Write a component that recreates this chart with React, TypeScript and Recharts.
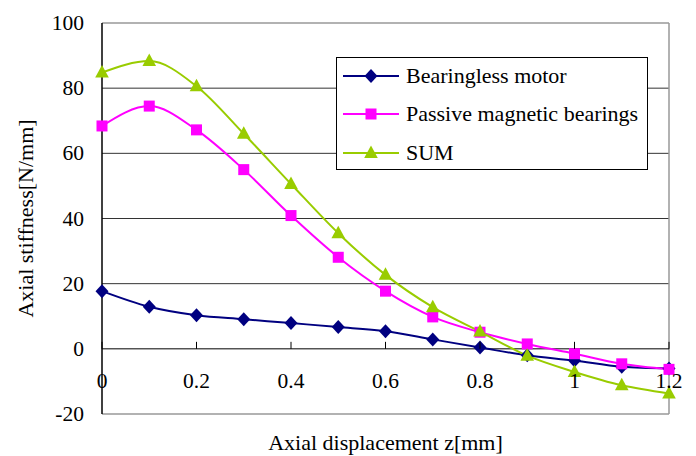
import React from "react";
import {
  LineChart,
  Line,
  XAxis,
  YAxis,
  ReferenceLine,
  Legend,
  Label,
} from "recharts";

const displacement = [0, 0.1, 0.2, 0.3, 0.4, 0.5, 0.6, 0.7, 0.8, 0.9, 1.0, 1.1, 1.2];
const bearinglessMotor = [17.7, 12.9, 10.3, 9.1, 7.9, 6.7, 5.4, 2.9, 0.4, -2.0, -3.6, -5.5, -6.0];
const passiveBearings = [68.4, 74.5, 67.2, 55.0, 40.9, 28.1, 17.7, 9.8, 5.1, 1.5, -1.5, -4.6, -6.3];
const sumStiffness = [84.8, 88.3, 80.6, 66.0, 50.6, 35.5, 22.7, 12.8, 5.3, -2.1, -7.1, -11.2, -13.7];

const xTicks = [0, 0.2, 0.4, 0.6, 0.8, 1, 1.2];
const yTicks = [-20, 0, 20, 40, 60, 80, 100];
const gridValues = [20, 40, 60, 80];

const chartData = displacement.map((z, i) => ({
  z,
  motor: bearinglessMotor[i],
  passive: passiveBearings[i],
  sum: sumStiffness[i],
}));

const FONT = "'Liberation Serif', 'Times New Roman', serif";
const NAVY = "#000080";
const MAGENTA = "#FF00FF";
const GREEN = "#99CC00";

const WIDTH = 696;
const HEIGHT = 456;
const MARGIN = { top: 23, right: 27, bottom: 0, left: 0 };
const X_AXIS_HEIGHT = 42;
// distance from bottom of plot (-20) to the zero line
const ZERO_OFFSET = ((HEIGHT - MARGIN.top - X_AXIS_HEIGHT) * 20) / 120;

function Marker({ kind, cx, cy }: { kind: string; cx: number; cy: number }) {
  if (kind === "diamond") {
    return (
      <path
        d={`M${cx},${cy - 7} L${cx + 6.5},${cy} L${cx},${cy + 7} L${cx - 6.5},${cy} Z`}
        fill={NAVY}
      />
    );
  }
  if (kind === "square") {
    return <rect x={cx - 5.5} y={cy - 5.5} width={11} height={11} fill={MAGENTA} />;
  }
  return (
    <path
      d={`M${cx},${cy - 7.5} L${cx + 6.8},${cy + 5} L${cx - 6.8},${cy + 5} Z`}
      fill={GREEN}
    />
  );
}

const makeDot = (kind: string) => (p: any) =>
  <Marker key={`${kind}-${p.index}`} kind={kind} cx={p.cx} cy={p.cy} />;

const XTick = (props: any) => {
  const { x, y, payload } = props;
  const zeroY = y - ZERO_OFFSET;
  return (
    <g>
      <line x1={x} x2={x} y1={zeroY - 7} y2={zeroY} stroke="#000" strokeWidth={1} />
      <text
        x={x}
        y={y - 33}
        textAnchor="middle"
        dominantBaseline="central"
        fontFamily={FONT}
        fontSize={21.5}
        fill="#000"
      >
        {payload.value}
      </text>
    </g>
  );
};

const YTick = (props: any) => {
  const { x, y, payload } = props;
  return (
    <text
      x={x}
      y={y}
      textAnchor="end"
      dominantBaseline="central"
      fontFamily={FONT}
      fontSize={21.5}
      fill="#000"
    >
      {payload.value}
    </text>
  );
};

const legendItems = [
  { label: "Bearingless motor", color: NAVY, kind: "diamond" },
  { label: "Passive magnetic bearings", color: MAGENTA, kind: "square" },
  { label: "SUM", color: GREEN, kind: "triangle" },
];

const LegendBox = () => (
  <div
    style={{
      width: 310,
      height: 111,
      border: "1px solid #000",
      background: "#fff",
      fontFamily: FONT,
      fontSize: 22,
      color: "#000",
      position: "relative",
    }}
  >
    {legendItems.map((item, i) => (
      <div
        key={item.label}
        style={{
          position: "absolute",
          left: 6,
          top: 18 + i * 38.3 - 14,
          height: 28,
          display: "flex",
          alignItems: "center",
          whiteSpace: "nowrap",
        }}
      >
        <svg width={58} height={28} style={{ display: "block" }}>
          <line x1={0} x2={56} y1={14} y2={14} stroke={item.color} strokeWidth={2} />
          <Marker kind={item.kind} cx={28} cy={14} />
        </svg>
        <span style={{ marginLeft: 5 }}>{item.label}</span>
      </div>
    ))}
  </div>
);

export default function App() {
  return (
    <div
      style={{
        position: "absolute",
        left: 0,
        top: 0,
        width: WIDTH,
        height: HEIGHT,
        background: "#fff",
        fontFamily: FONT,
      }}
    >
      <LineChart width={WIDTH} height={HEIGHT} data={chartData} margin={MARGIN}>
        {gridValues.map((v) => (
          <ReferenceLine key={v} y={v} stroke="#333" strokeWidth={1} />
        ))}
        <ReferenceLine y={100} stroke="#999" strokeWidth={1.5} />
        <ReferenceLine x={1.2} stroke="#999" strokeWidth={1.5} />
        <ReferenceLine y={0} stroke="#000" strokeWidth={1} />
        <XAxis
          dataKey="z"
          type="number"
          domain={[0, 1.2]}
          ticks={xTicks}
          height={X_AXIS_HEIGHT}
          axisLine={{ stroke: "#999", strokeWidth: 1.5 }}
          tickLine={false}
          tickSize={0}
          tickMargin={0}
          tick={<XTick />}
          interval={0}
        >
          <Label
            content={({ viewBox }: any) => (
              <text
                x={viewBox.x + viewBox.width / 2}
                y={viewBox.y + 28}
                textAnchor="middle"
                dominantBaseline="central"
                fontFamily={FONT}
                fontSize={22}
                fill="#000"
              >
                Axial displacement z[mm]
              </text>
            )}
          />
        </XAxis>
        <YAxis
          type="number"
          domain={[-20, 100]}
          ticks={yTicks}
          width={102}
          axisLine={{ stroke: "#000", strokeWidth: 1.5 }}
          tickLine={false}
          tickSize={0}
          tickMargin={18}
          interval={0}
          tick={<YTick />}
        >
          <Label
            content={({ viewBox }: any) => {
              const cx = viewBox.x + 25;
              const cy = viewBox.y + viewBox.height / 2;
              return (
                <text
                  x={cx}
                  y={cy}
                  transform={`rotate(-90 ${cx} ${cy})`}
                  textAnchor="middle"
                  dominantBaseline="central"
                  fontFamily={FONT}
                  fontSize={22}
                  fill="#000"
                >
                  Axial stiffness[N/mm]
                </text>
              );
            }}
          />
        </YAxis>
        <Legend
          layout="vertical"
          align="center"
          verticalAlign="middle"
          content={() => <LegendBox />}
          wrapperStyle={{ left: 336, top: 57, width: 312, height: 113 }}
        />
        <Line
          type="monotone"
          dataKey="motor"
          stroke={NAVY}
          strokeWidth={2}
          dot={makeDot("diamond")}
          activeDot={false}
          isAnimationActive={false}
        />
        <Line
          type="monotone"
          dataKey="passive"
          stroke={MAGENTA}
          strokeWidth={2}
          dot={makeDot("square")}
          activeDot={false}
          isAnimationActive={false}
        />
        <Line
          type="monotone"
          dataKey="sum"
          stroke={GREEN}
          strokeWidth={2}
          dot={makeDot("triangle")}
          activeDot={false}
          isAnimationActive={false}
        />
      </LineChart>
    </div>
  );
}
